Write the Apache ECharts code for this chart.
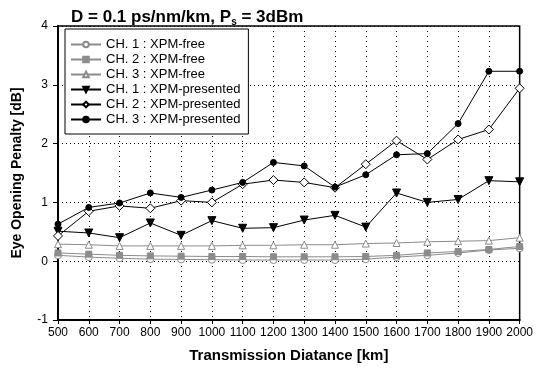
<!DOCTYPE html>
<html><head><meta charset="utf-8">
<script src="https://cdn.jsdelivr.net/npm/echarts@6/dist/echarts.min.js"></script>
<style>html,body{margin:0;padding:0;background:#fff}#c{width:536px;height:373px}</style>
</head><body><div id="c"></div>
<script>
const distances = [500,600,700,800,900,1000,1100,1200,1300,1400,1500,1600,1700,1800,1900,2000];
const ch1Free = [0.10,0.07,0.05,0.035,0.03,0.025,0.02,0.02,0.02,0.02,0.035,0.07,0.10,0.14,0.19,0.22];
const ch2Free = [0.14,0.12,0.10,0.09,0.085,0.08,0.08,0.075,0.075,0.075,0.08,0.10,0.14,0.165,0.20,0.25];
const ch3Free = [0.29,0.28,0.26,0.26,0.26,0.26,0.27,0.27,0.28,0.28,0.30,0.31,0.33,0.34,0.35,0.40];
const ch1Pres = [0.51,0.48,0.40,0.65,0.44,0.69,0.56,0.57,0.70,0.78,0.58,1.16,1.00,1.05,1.37,1.35];
const ch2Pres = [0.43,0.85,0.94,0.90,1.03,1.00,1.31,1.38,1.34,1.25,1.65,2.05,1.73,2.07,2.24,2.94];
const ch3Pres = [0.63,0.915,0.99,1.16,1.085,1.21,1.34,1.68,1.62,1.26,1.47,1.81,1.83,2.34,3.23,3.23];
const seriesNames = ['CH. 1 : XPM-free','CH. 2 : XPM-free','CH. 3 : XPM-free','CH. 1 : XPM-presented','CH. 2 : XPM-presented','CH. 3 : XPM-presented'];
const yTicks = [-1,0,1,2,3,4];

const pair = arr => distances.map((d,i)=>[d,arr[i]]);
const F = 'Liberation Sans, Arial, sans-serif';
const gray = '#8c8c8c';
function s(name, data, symbol, size, color, fill, extra){
  return Object.assign({
    name, type:'line', data:pair(data), symbol, symbolSize:size,
    lineStyle:{color:color,width:1}, itemStyle:{color:fill,borderColor:color,borderWidth:1},
    emphasis:{disabled:true}, animation:false, z: 3
  }, extra||{});
}
const chart = echarts.init(document.getElementById('c'));
chart.setOption({
  backgroundColor:'#fff',
  animation:false,
  title:{
    text:'{a|D = 0.1 ps/nm/km, P}{s|s}{a| = 3dBm}',
    left:66, top:2,
    textStyle:{rich:{
      a:{fontFamily:F,fontWeight:'bold',fontSize:17,color:'#000'},
      s:{fontFamily:F,fontWeight:'bold',fontSize:10,color:'#000',padding:[10,0,0,0]}
    }}
  },
  grid:{left:58,right:14,top:26,bottom:53,show:true,borderColor:'#000',borderWidth:1.5,backgroundColor:'transparent'},
  legend:{
    orient:'vertical', left:65, top:29, data:seriesNames,
    backgroundColor:'#fff', borderColor:'#000', borderWidth:1,
    padding:[9,8,8,5], itemWidth:30, itemHeight:7, itemGap:2,
    textStyle:{fontFamily:F,fontSize:13,color:'#000',lineHeight:13}
  },
  xAxis:{
    type:'value', min:500, max:2000, interval:100,
    name:'Transmission Diatance [km]', nameLocation:'middle', nameGap:28,
    nameTextStyle:{fontFamily:F,fontWeight:'bold',fontSize:15,color:'#000'},
    axisLine:{onZero:false,lineStyle:{color:'#000',width:2}},
    axisTick:{show:true,length:4,lineStyle:{color:'#000'}},
    axisLabel:{fontFamily:F,fontSize:12,color:'#000',margin:7,formatter:v=>String(v)},
    splitLine:{show:true,lineStyle:{color:'#000',width:1,type:[1,4]}}
  },
  yAxis:{
    type:'value', min:yTicks[0], max:yTicks[yTicks.length-1], interval:1,
    name:'Eye Opening Penalty [dB]', nameLocation:'middle', nameGap:34,
    nameTextStyle:{fontFamily:F,fontWeight:'bold',fontSize:14,color:'#000'},
    axisLine:{show:true,onZero:false,lineStyle:{color:'#000',width:2}},
    axisTick:{show:true,length:5,lineStyle:{color:'#000'}},
    axisLabel:{fontFamily:F,fontSize:12,color:'#000',margin:10},
    splitLine:{show:true,lineStyle:{color:'#000',width:1,type:[1,3]}}
  },
  series:[
    s(seriesNames[0], ch1Free, 'circle', 7, gray, '#fff'),
    s(seriesNames[1], ch2Free, 'rect', 6, gray, gray),
    s(seriesNames[2], ch3Free, 'triangle', 7, gray, '#fff'),
    s(seriesNames[3], ch1Pres, 'triangle', 8, '#000', '#000', {symbolRotate:180}),
    s(seriesNames[4], ch2Pres, 'diamond', 9, '#000', '#fff'),
    s(seriesNames[5], ch3Pres, 'circle', 6, '#000', '#000')
  ]
});
</script></body></html>
